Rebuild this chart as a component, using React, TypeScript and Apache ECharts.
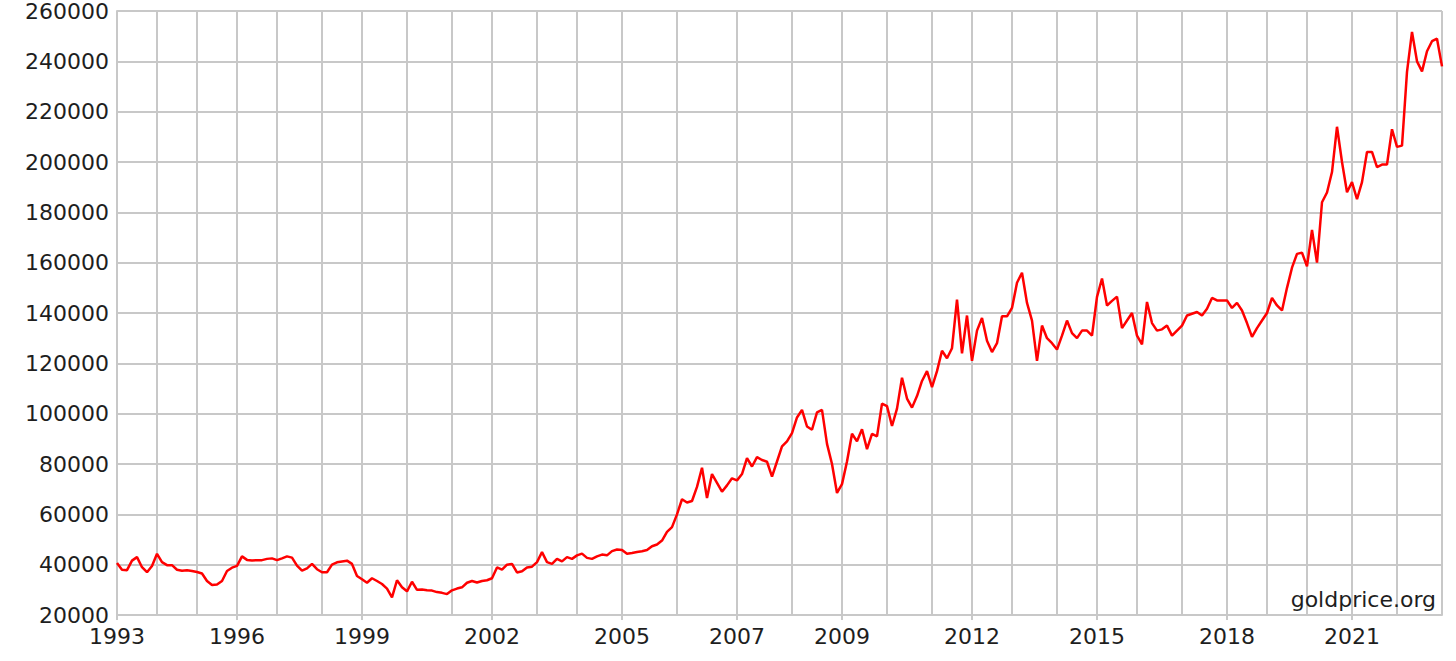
import React, { useEffect, useRef } from "react";
import * as echarts from "echarts";

// Calendar years shown on the x axis (one vertical grid line at each year start)
const years = [
  1993, 1994, 1995, 1996, 1997, 1998, 1999, 2000, 2001, 2002, 2003, 2004, 2005, 2006, 2007,
  2008, 2009, 2010, 2011, 2012, 2013, 2014, 2015, 2016, 2017, 2018, 2019, 2020, 2021, 2022,
];
// Years that carry a tick label
const labeledYears = [1993, 1996, 1999, 2002, 2005, 2007, 2009, 2012, 2015, 2018, 2021];

// Y axis range
const yMin = 20000;
const yMax = 260000;
const yStep = 20000;

// Gold price samples, one list per year
const pricesByYear: number[][] = [
  [40700, 38000, 37800, 41600, 43000, 39000, 37000, 39500], // 1993
  [44300, 41000, 39800, 39800, 38000, 37600, 37800, 37500], // 1994
  [37100, 36500, 33500, 31900, 32100, 33500, 37500, 38800], // 1995
  [39500, 43300, 41900, 41700, 41800, 41800, 42300, 42500], // 1996
  [41800, 42500, 43300, 42800, 39600, 37600, 38500, 40300, 38200], // 1997
  [37000, 37000, 40000, 40950, 41300, 41600, 40300, 35500], // 1998
  [34200, 32800, 34600, 33500, 32300, 30500, 27000, 33800, 31000], // 1999
  [29400, 33200, 30000, 30100, 29800, 29700, 29100, 28800, 28300], // 2000
  [29800, 30500, 31000, 32800, 33500, 32900, 33500, 33800], // 2001
  [34600, 38900, 38000, 40000, 40300, 36900, 37400, 38900, 39200], // 2002
  [41000, 45000, 41000, 40300, 42300, 41300, 43000, 42300], // 2003
  [43700, 44400, 42700, 42300, 43300, 44000, 43700, 45400, 46000], // 2004
  [45800, 44300, 44600, 45000, 45300, 45800, 47300, 48000, 49600, 53000, 54900], // 2005
  [60000, 66000, 64700, 65300, 70900, 78500, 66500, 76000, 72500, 69000, 71500, 74300], // 2006
  [73500, 76000, 82300, 79000, 82700, 81600, 80900, 75000, 81000, 87000, 89000], // 2007
  [92300, 98500, 101500, 94900, 93600, 100500, 101500, 88000, 80000, 68500], // 2008
  [72000, 81000, 92000, 89000, 93800, 85900, 92000, 91000, 104000], // 2009
  [103000, 95100, 102000, 114300, 106000, 102400, 107000, 113000, 116900], // 2010
  [110500, 116900, 125000, 122000, 126000, 145300, 124000, 139000], // 2011
  [121000, 133000, 138000, 129000, 124500, 128000, 138700, 138700], // 2012
  [142000, 152000, 156000, 144000, 137000, 121000, 135000, 130000, 128000], // 2013
  [125500, 131000, 137000, 132000, 130000, 133000, 133000, 131000], // 2014
  [146400, 153700, 143000, 144800, 146500, 134000, 137000, 140000], // 2015
  [131000, 127500, 144400, 136000, 133000, 133500, 135000, 131000, 133000], // 2016
  [135000, 139000, 139700, 140400, 139000, 141700, 146000, 145000, 145000], // 2017
  [145000, 142000, 144000, 141000, 136000, 130500, 134000, 137000], // 2018
  [140000, 146000, 143000, 141000, 150000, 158000, 163500, 164000], // 2019
  [158500, 173000, 160000, 184000, 187900, 196000, 214000, 200000, 188000], // 2020
  [192000, 185200, 192000, 204000, 204000, 198000, 199000, 199000, 213000], // 2021
  [206000, 206500, 235800, 251700, 240000, 236000, 244000, 248000, 249000, 238000], // 2022
];

const watermark = "goldprice.org";

export default function App() {
  const ref = useRef<HTMLDivElement>(null);

  useEffect(() => {
    document.body.style.margin = "0";
    if (!ref.current) return;
    const chart = echarts.init(ref.current, null, { renderer: "svg" });

    const categories: string[] = [];
    const values: number[] = [];
    const yearStart = new Set<number>();
    const labelIdx = new Set<number>();
    years.forEach((y, yi) => {
      yearStart.add(categories.length);
      if (labeledYears.includes(y)) labelIdx.add(categories.length);
      pricesByYear[yi].forEach((v, k) => {
        categories.push(`${y}-${k + 1}`);
        values.push(v);
      });
    });
    yearStart.add(categories.length - 1);

    const gridColor = "#c8c8c8";
    const textColor = "#1e1e1e";
    const font = "DejaVu Sans";

    chart.setOption({
      animation: false,
      backgroundColor: "#ffffff",
      grid: { left: 117, right: 14, top: 11, bottom: 46, containLabel: false },
      xAxis: {
        type: "category",
        data: categories,
        boundaryGap: false,
        axisLine: { show: true, lineStyle: { color: gridColor, width: 2 } },
        axisTick: {
          show: true,
          length: 5,
          interval: (i: number) => labelIdx.has(i),
          lineStyle: { color: gridColor, width: 2 },
        },
        axisLabel: {
          interval: (i: number) => labelIdx.has(i),
          formatter: (v: string) => v.split("-")[0],
          fontFamily: font,
          fontSize: 22,
          color: textColor,
          margin: 10,
        },
        splitLine: {
          show: true,
          interval: (i: number) => yearStart.has(i),
          lineStyle: { color: gridColor, width: 2 },
        },
      },
      yAxis: {
        type: "value",
        min: yMin,
        max: yMax,
        interval: yStep,
        axisLine: { show: true, lineStyle: { color: gridColor, width: 2 } },
        axisTick: { show: false },
        axisLabel: {
          formatter: (v: number) => String(v),
          fontFamily: font,
          fontSize: 22,
          color: textColor,
          margin: 8,
        },
        splitLine: { show: true, lineStyle: { color: gridColor, width: 2 } },
      },
      series: [
        {
          type: "line",
          data: values,
          showSymbol: false,
          symbol: "none",
          lineStyle: { color: "#ff0000", width: 2.5 },
          z: 5,
        },
      ],
      graphic: [
        {
          type: "text",
          right: 20,
          top: 588,
          style: {
            text: watermark,
            fontFamily: font,
            fontSize: 22,
            fill: textColor,
          },
          z: 10,
        },
      ],
    });

    return () => chart.dispose();
  }, []);

  return <div ref={ref} style={{ width: 1456, height: 661 }} />;
}
